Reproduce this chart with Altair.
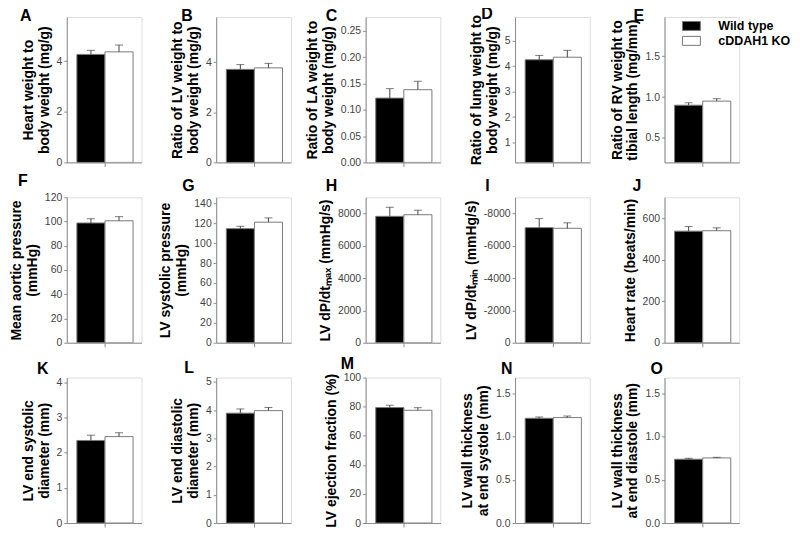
import altair as alt
import pandas as pd

groups = ["Wild type", "cDDAH1 KO"]
letters = list("ABCDEFGHIJKLMNO")
titles = [
    ["Heart weight to", "body weight (mg/g)"],
    ["Ratio of LV weight to", "body weight (mg/g)"],
    ["Ratio of LA weight to", "body weight (mg/g)"],
    ["Ratio of lung weight to", "body weight (mg/g)"],
    ["Ratio of RV weight to", "tibial length (mg/mm)"],
    ["Mean aortic pressure", "(mmHg)"],
    ["LV systolic pressure", "(mmHg)"],
    "LV dP/dtₘₐₓ (mmHg/s)",
    "LV dP/dtₘᵢₙ (mmHg/s)",
    "Heart rate (beats/min)",
    ["LV end systolic", "diameter (mm)"],
    ["LV end diastolic", "diameter (mm)"],
    "LV ejection fraction (%)",
    ["LV wall thickness", "at end systole (mm)"],
    ["LV wall thickness", "at end diastole (mm)"],
]
wt_mean = [4.27, 3.71, 0.122, 4.25, 0.90, 98.8, 114.5, 7820, 7120, 537, 2.35, 3.89, 79.4, 1.21, 0.737]
wt_sem = [0.16, 0.19, 0.018, 0.17, 0.03, 3.5, 2.4, 560, 560, 22, 0.15, 0.15, 1.6, 0.015, 0.011]
ko_mean = [4.37, 3.77, 0.138, 4.35, 0.95, 100.6, 121.0, 7920, 7080, 539, 2.46, 3.98, 77.5, 1.218, 0.752]
ko_sem = [0.27, 0.18, 0.016, 0.27, 0.03, 3.4, 4.3, 280, 340, 14, 0.11, 0.11, 1.8, 0.018, 0.007]
y_min = [0, 0, 0, 0.22, 0.2, 0, 0, 0, 0, 0, 0, 0, 0, 0, 0]
y_max = [5.75, 5.8, 0.276, 5.93, 1.98, 120, 146, 9000, 9000, 700, 4.14, 5.15, 100, 1.68, 1.68]
y_ticks = [
    [0, 2, 4], [0, 2, 4], [0, 0.05, 0.10, 0.15, 0.20, 0.25], [1, 2, 3, 4, 5], [0.5, 1.0, 1.5],
    [0, 20, 40, 60, 80, 100, 120], [0, 20, 40, 60, 80, 100, 120, 140],
    [0, 2000, 4000, 6000, 8000], [0, 2000, 4000, 6000, 8000], [0, 200, 400, 600],
    [0, 1, 2, 3, 4], [0, 1, 2, 3, 4, 5], [0, 20, 40, 60, 80, 100], [0.0, 0.5, 1.0, 1.5], [0.0, 0.5, 1.0, 1.5],
]
y_fmt = ["d", "d", ".2f", "d", ".1f", "d", "d", "d", "d", "d", "d", "d", "d", ".1f", ".1f"]
negative_labels = [False] * 8 + [True] + [False] * 6
letter_dx = [-47, -35, -40, -34, -31, -49, -34, -40, -30, -32, -30, -32, -25, -14, -14]
row_letter_offset = [-7, 3, 1]

FONT = "Liberation Sans"
W, H = 75, 146


def panel(i):
    df = pd.DataFrame({
        "group": groups,
        "mean": [wt_mean[i], ko_mean[i]],
        "sem": [wt_sem[i], ko_sem[i]],
    })
    base = alt.Chart(df).transform_calculate(
        x0="datum.group == 'Wild type' ? 0 : 1",
        x1="datum.group == 'Wild type' ? 1 : 2",
        xc="datum.group == 'Wild type' ? 0.5 : 1.5",
        hi="datum.mean + datum.sem",
        base=str(y_min[i]),
    )
    xscale = alt.Scale(domain=[-0.36, 2.3], nice=False, zero=False)
    yscale = alt.Scale(domain=[y_min[i], y_max[i]], nice=False, zero=False)
    yaxis_kw = dict(
        values=y_ticks[i], tickCount=len(y_ticks[i]) + 2, format=y_fmt[i], title=titles[i], grid=False,
        domainColor="#8c8c8c", tickColor="#8c8c8c", tickSize=3, labelPadding=2,
        labelColor="#444444", labelFontSize=10.5, labelFont=FONT,
        labelOverlap=False, labelFlush=False,
        titleFont=FONT, titleFontSize=14, titleFontWeight="bold", titleColor="black",
        titlePadding=5, titleLineHeight=16,
    )
    if negative_labels[i]:
        yaxis_kw["labelExpr"] = "datum.value == 0 ? '0' : '-' + datum.label"
    yaxis = alt.Axis(**yaxis_kw)
    xaxis = alt.Axis(values=[1], labels=False, title=None, grid=False,
                     domainColor="#8c8c8c", tickColor="#8c8c8c", tickSize=4)
    legend = None
    if letters[i] == "E":
        legend = alt.Legend(
            title=None, orient="none", legendX=19, legendY=1,
            symbolType="M-1.2,-0.6L1.2,-0.6L1.2,0.6L-1.2,0.6Z", symbolSize=225,
            symbolStrokeColor="#777777", symbolStrokeWidth=1,
            labelFont=FONT, labelFontSize=12.5, labelFontWeight="bold", labelColor="black",
            labelOffset=19, rowPadding=0,
        )
    bars = base.mark_bar(stroke="#7a7a7a", strokeWidth=1, clip=True).encode(
        x=alt.X("x0:Q", scale=xscale, axis=xaxis),
        x2="x1:Q",
        y=alt.Y("mean:Q", scale=yscale, axis=yaxis),
        y2="base:Q",
        fill=alt.Fill("group:N", scale=alt.Scale(domain=groups, range=["black", "white"]), legend=legend),
    )
    stems = base.mark_rule(color="#444444", strokeWidth=1).encode(
        x="xc:Q", y="mean:Q", y2="hi:Q")
    caps = base.mark_tick(color="#444444", orient="horizontal", size=8, thickness=1).encode(
        x="xc:Q", y="hi:Q")
    row = i // 5
    return alt.layer(bars, stems, caps).properties(
        width=W, height=H,
        title=alt.TitleParams(text=letters[i], anchor="start", frame="group", dx=letter_dx[i],
                              offset=row_letter_offset[row], font=FONT, fontSize=16,
                              fontWeight="bold", color="black"),
    )


chart = alt.concat(
    *[panel(i) for i in range(15)], columns=5, bounds="flush",
    spacing={"row": 35, "column": 75},
).resolve_scale(fill="independent").properties(
    padding={"left": 0, "top": -4, "right": 0, "bottom": 0}
).configure_view(stroke=None).configure(background="white")

chart.save("out.html", embed_options={"renderer": "svg", "actions": False})
